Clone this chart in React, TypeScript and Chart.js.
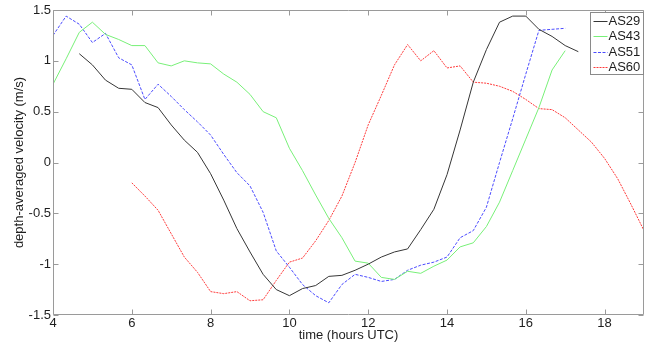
import React, { useEffect, useRef } from "react";
import { Chart, registerables } from "chart.js";

Chart.register(...registerables);

// time axis (hours UTC), 20-minute samples
const hours = [
  4, 4.333, 4.667, 5, 5.333, 5.667, 6, 6.333, 6.667, 7, 7.333, 7.667,
  8, 8.333, 8.667, 9, 9.333, 9.667, 10, 10.333, 10.667, 11, 11.333, 11.667,
  12, 12.333, 12.667, 13, 13.333, 13.667, 14, 14.333, 14.667, 15, 15.333, 15.667,
  16, 16.333, 16.667, 17, 17.333, 17.667, 18, 18.333, 18.667, 19,
];

const xTicks = [4, 6, 8, 10, 12, 14, 16, 18];
const yTicks = [-1.5, -1, -0.5, 0, 0.5, 1, 1.5];

const seriesNames = ["AS29", "AS43", "AS51", "AS60"];

const as29 = [
  null, null,
  1.07, 0.96, 0.81, 0.73, 0.72, 0.59, 0.54, 0.37, 0.22, 0.10,
  -0.11, -0.37, -0.65, -0.88, -1.10, -1.25, -1.31, -1.24, -1.21, -1.12,
  -1.11, -1.06, -1.00, -0.93, -0.88, -0.85, -0.66, -0.46, -0.12, 0.32,
  0.79, 1.11, 1.38, 1.44, 1.44, 1.31, 1.24, 1.15, 1.09,
  null, null, null, null, null,
];

const as43 = [
  0.77, 1.02, 1.28, 1.38, 1.26, 1.21, 1.15, 1.15, 0.98, 0.95,
  1.00, 0.98, 0.97, 0.87, 0.79, 0.67, 0.50, 0.44, 0.14, -0.08,
  -0.32, -0.55, -0.74, -0.97, -0.99, -1.13, -1.15, -1.07, -1.09, -1.02,
  -0.96, -0.83, -0.79, -0.63, -0.39, -0.08, 0.23, 0.54, 0.91, 1.10,
  null, null, null, null, null, null,
];

const as51 = [
  1.25, 1.44, 1.36, 1.18, 1.27, 1.03, 0.96, 0.62, 0.77, 0.65,
  0.52, 0.40, 0.27, 0.08, -0.10, -0.23, -0.49, -0.87, -1.03, -1.20,
  -1.31, -1.38, -1.20, -1.10, -1.13, -1.17, -1.15, -1.06, -1.01, -0.98,
  -0.93, -0.74, -0.67, -0.44, 0.00, 0.43, 0.87, 1.30, 1.31, 1.32,
  null, null, null, null, null, null,
];

const as60 = [
  null, null, null, null, null, null,
  -0.20, -0.33, -0.47, -0.70, -0.93, -1.08, -1.27, -1.29, -1.27, -1.36,
  -1.35, -1.16, -0.98, -0.94, -0.77, -0.57, -0.33, 0.00, 0.37, 0.66,
  0.96, 1.16, 1.00, 1.10, 0.93, 0.95, 0.79, 0.78, 0.75, 0.70,
  0.62, 0.53, 0.52, 0.44, 0.32, 0.20, 0.04, -0.16, -0.41, -0.67,
];

const FONT = "'Liberation Sans', Arial, Helvetica, sans-serif";
const AXIS_COLOR = "#9a9a9a";
const TEXT_COLOR = "#1e1e1e";

const toPoints = (vals: (number | null)[]) =>
  hours
    .map((h, i) => ({ x: h, y: vals[i] }))
    .filter((p) => p.y !== null && p.y !== undefined);

const matlabFrame = {
  id: "matlabFrame",
  afterDatasetsDraw(chart: any) {
    const { ctx, chartArea: a, scales } = chart;
    const L = Math.round(a.left) + 0.5;
    const R = Math.round(a.right) - 0.5;
    const T = Math.round(a.top) + 0.5;
    const B = Math.round(a.bottom) - 0.5;
    ctx.save();
    ctx.strokeStyle = AXIS_COLOR;
    ctx.lineWidth = 1;
    ctx.setLineDash([]);
    ctx.beginPath();
    ctx.rect(L, T, R - L, B - T);
    const tick = 5;
    scales.x.ticks.forEach((t: any) => {
      const px = Math.round(scales.x.getPixelForValue(t.value)) + 0.5;
      ctx.moveTo(px, B);
      ctx.lineTo(px, B - tick);
      ctx.moveTo(px, T);
      ctx.lineTo(px, T + tick);
    });
    scales.y.ticks.forEach((t: any) => {
      const py = Math.round(scales.y.getPixelForValue(t.value)) + 0.5;
      ctx.moveTo(L, py);
      ctx.lineTo(L + tick, py);
      ctx.moveTo(R, py);
      ctx.lineTo(R - tick, py);
    });
    ctx.stroke();

    // legend box (top-right, inside axes)
    const w = 53;
    const h = 62;
    const left = Math.round(a.right) - 1 - w + 0.5;
    const top = Math.round(a.top) + 2 + 0.5;
    ctx.fillStyle = "#ffffff";
    ctx.fillRect(left, top, w, h);
    ctx.strokeStyle = "#8a8a8a";
    ctx.strokeRect(left, top, w, h);
    ctx.font = `13px ${FONT}`;
    ctx.textBaseline = "middle";
    ctx.textAlign = "left";
    chart.data.datasets.forEach((ds: any, i: number) => {
      const y = Math.round(top + 8 + i * 15.5) + 0.5;
      ctx.strokeStyle = ds.borderColor;
      ctx.lineWidth = ds.borderWidth;
      ctx.setLineDash(ds.borderDash || []);
      ctx.beginPath();
      ctx.moveTo(left + 3, y);
      ctx.lineTo(left + 17, y);
      ctx.stroke();
      ctx.setLineDash([]);
      ctx.fillStyle = TEXT_COLOR;
      ctx.fillText(ds.label, left + 18, y);
    });
    ctx.restore();
  },
};

export default function App() {
  const canvasRef = useRef<HTMLCanvasElement | null>(null);

  useEffect(() => {
    if (!canvasRef.current) return;
    const chart = new Chart(canvasRef.current, {
      type: "line",
      data: {
        datasets: [
          {
            label: seriesNames[0],
            data: toPoints(as29),
            borderColor: "#363636",
            borderWidth: 1,
          },
          {
            label: seriesNames[1],
            data: toPoints(as43),
            borderColor: "#78f078",
            borderWidth: 1,
          },
          {
            label: seriesNames[2],
            data: toPoints(as51),
            borderColor: "#4a4aff",
            borderWidth: 1,
            borderDash: [3, 1.5],
          },
          {
            label: seriesNames[3],
            data: toPoints(as60),
            borderColor: "#ff3c3c",
            borderWidth: 1,
            borderDash: [2, 1],
          },
        ],
      },
      options: {
        responsive: false,
        animation: false,
        devicePixelRatio: 1,
        layout: { padding: { left: 0, right: 2, top: 10, bottom: 0 } },
        elements: {
          point: { radius: 0, hoverRadius: 0 },
          line: { tension: 0, fill: false },
        },
        plugins: {
          legend: { display: false },
          tooltip: { enabled: false },
        },
        scales: {
          x: {
            type: "linear",
            min: 4,
            max: 19,
            afterBuildTicks: (s: any) => {
              s.ticks = xTicks.map((v) => ({ value: v }));
            },
            afterFit: (s: any) => {
              s.height = 32;
            },
            grid: { display: false, drawTicks: false, tickLength: 0 },
            border: { display: false },
            ticks: {
              autoSkip: false,
              maxRotation: 0,
              padding: 1,
              color: TEXT_COLOR,
              font: { family: FONT, size: 13 },
              callback: (v: any) => String(v),
            },
            title: {
              display: true,
              text: "time (hours UTC)",
              color: TEXT_COLOR,
              font: { family: FONT, size: 13 },
              padding: { top: 0, bottom: 4 },
            },
          },
          y: {
            type: "linear",
            min: -1.5,
            max: 1.5,
            afterBuildTicks: (s: any) => {
              s.ticks = yTicks.map((v) => ({ value: v }));
            },
            afterFit: (s: any) => {
              s.width = 53;
            },
            grid: { display: false, drawTicks: false, tickLength: 0 },
            border: { display: false },
            ticks: {
              autoSkip: false,
              padding: 2,
              color: TEXT_COLOR,
              font: { family: FONT, size: 13 },
              callback: (v: any) => String(v),
            },
            title: {
              display: true,
              text: "depth-averaged velocity (m/s)",
              color: TEXT_COLOR,
              font: { family: FONT, size: 13 },
              padding: { top: 12, bottom: 0 },
            },
          },
        },
      },
      plugins: [matlabFrame],
    });
    return () => chart.destroy();
  }, []);

  return (
    <div
      style={{
        position: "fixed",
        left: 0,
        top: 0,
        width: 646,
        height: 347,
        background: "#ffffff",
      }}
    >
      <canvas
        ref={canvasRef}
        width={646}
        height={347}
        style={{ display: "block", width: 646, height: 347 }}
      />
    </div>
  );
}
